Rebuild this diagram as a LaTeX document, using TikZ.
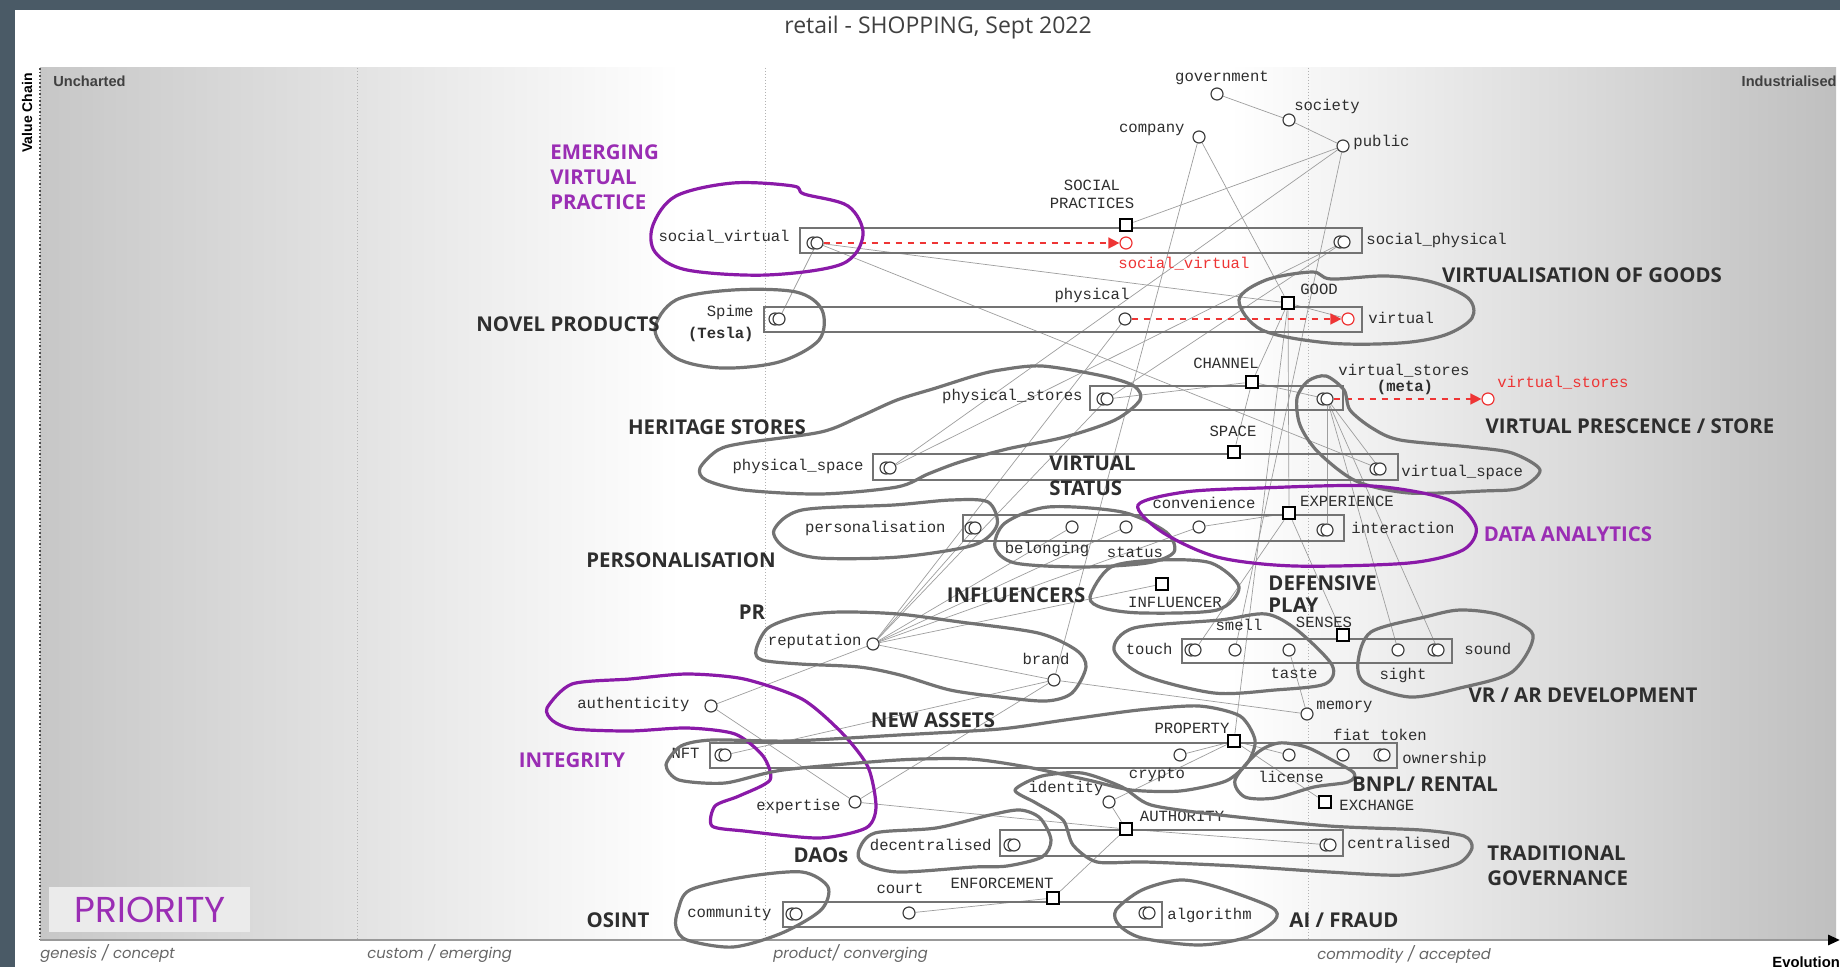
\documentclass[tikz,border=0pt]{standalone}
\usepackage{fontspec}
\setmainfont{Open Sans}
\newfontfamily\monofont{Liberation Mono}
\newfontfamily\arialfont{Liberation Sans}
\newfontfamily\geofont{Poppins}
\usetikzlibrary{arrows.meta}
\definecolor{slate}{HTML}{4A5A66}
\definecolor{inkgray}{HTML}{2E2E2E}
\definecolor{blobgray}{HTML}{737373}
\definecolor{blobpurple}{HTML}{8A1AA8}
\definecolor{textpurple}{HTML}{9A2DB4}
\definecolor{evored}{HTML}{EE3535}
\pgfdeclarelayer{back}
\pgfdeclarelayer{under}
\pgfsetlayers{back,under,main}
\tikzstyle{comp} = [circle,draw=black!75,fill=white,line width=0.6pt,
  minimum size=6pt,inner sep=0pt]
\tikzstyle{newcomp} = [comp,draw=evored]
\tikzstyle{capbox} = [rectangle,draw=black,fill=white,line width=1.1pt,
  minimum size=6.2pt,inner sep=0pt]
\tikzstyle{pipe} = [draw=black!55,line width=0.6pt]
\tikzstyle{link} = [draw=black!38,line width=0.35pt]
\tikzstyle{evo} = [draw=evored,dashed,line width=0.7pt,
  -{Triangle[length=5.5pt,width=5.5pt]}]
\tikzstyle{lbl} = [font=\monofont\fontsize{7.8}{9}\selectfont,text=inkgray,
  inner sep=0.5pt,align=center]
\tikzstyle{group} = [font=\fontsize{10.2}{12.5}\selectfont\bfseries,
  text=inkgray,inner sep=0pt,align=left]
\tikzstyle{blob} = [draw=blobgray,line width=1.6pt,line join=round]
\tikzstyle{pblob} = [blob,draw=blobpurple]
\tikzstyle{axislbl} = [font=\geofont\itshape\fontsize{7.4}{8}\selectfont,
  text=black!60,anchor=west,inner sep=0pt]
\newcommand{\twin}[2]{%
  \node[comp] (#1-b) at ([xshift=-2pt]#2) {};%
  \node[comp] (#1) at (#2) {};}

\begin{document}
\begin{tikzpicture}[x=0.5pt,y=-0.5pt]
  \useasboundingbox (0,0) rectangle (1840,967);
  % frame and map ground
  \begin{pgfonlayer}{back}
    \fill[slate] (0,0) rectangle (1840,967);
    \fill[white] (15,10) rectangle (1840,967);
    \shade[left color=black!22,right color=white] (40,68) rectangle (680,940);
    \shade[left color=white,right color=black!25] (1230,68) rectangle (1836,940);
    \foreach \x in {357,765,1308}
      \draw[black!30,densely dotted,line width=0.5pt] (\x,68) -- (\x,940);
    \draw[black!70,densely dotted,line width=0.8pt] (40,68) -- (40,940);
    \draw[black!40,line width=1.4pt,-{Triangle[length=6pt,width=5pt,black]}]
      (40,940) -- (1840,940);
  \end{pgfonlayer}
  \node[font=\fontsize{11.5}{13}\selectfont,text=black!75] (title) at (938,28)
    {retail - SHOPPING, Sept 2022};
  \node[font=\arialfont\bfseries\fontsize{7.3}{8}\selectfont,text=black!75,
    anchor=west,inner sep=0pt] (unch) at (53,81) {Uncharted};
  \node[font=\arialfont\bfseries\fontsize{7.3}{8}\selectfont,text=black!75,
    anchor=east,inner sep=0pt] (indu) at (1837,81) {Industrialised};
  \node[font=\arialfont\bfseries\fontsize{7}{8}\selectfont,rotate=90,
    inner sep=0pt] (vchain) at (27,113) {Value Chain};
  \node[axislbl] (ax1) at (40,954) {genesis / concept};
  \node[axislbl] (ax2) at (367,954) {custom / emerging};
  \node[axislbl] (ax3) at (773,954) {product/ converging};
  \node[axislbl] (ax4) at (1317,954) {commodity / accepted};
  \node[font=\arialfont\bfseries\fontsize{7.4}{8}\selectfont,anchor=west,
    inner sep=0pt] (evol) at (1772,962) {Evolution};

  % pipelines
  \foreach \xa/\ya/\xb/\yb in {800/228/1362/253, 764/307/1362/332,
      1090/386/1343/410, 873/454/1398/480, 963/515/1344/541,
      1182/639/1452/663, 710/743/1397/768, 1000/830/1343/856, 783/902/1162/927}
    \draw[pipe] (\xa,\ya) rectangle (\xb,\yb);

  % components
  \node[comp] (gov) at (1217,94) {};
  \node[comp] (soc) at (1289,120) {};
  \node[comp] (cmpy) at (1199,137) {};
  \node[comp] (pub) at (1343,146) {};
  \twin{sv}{817,243}
  \node[newcomp] (svn) at (1126,243) {};
  \twin{sph}{1344,242}
  \twin{spime}{779,319}
  \node[comp] (phys) at (1125,319) {};
  \node[newcomp] (virt) at (1348,319) {};
  \twin{pst}{1107,399}
  \twin{vst}{1327,399}
  \node[newcomp] (vstn) at (1488,399) {};
  \twin{psp}{890,468}
  \twin{vsp}{1380,469}
  \twin{pers}{975,528}
  \node[comp] (bel) at (1072,527) {};
  \node[comp] (stat) at (1126,527) {};
  \node[comp] (conv) at (1199,527) {};
  \twin{inter}{1327,530}
  \twin{touch}{1195,650}
  \node[comp] (smell) at (1235,650) {};
  \node[comp] (taste) at (1289,650) {};
  \node[comp] (sight) at (1398,650) {};
  \twin{sound}{1438,650}
  \node[comp] (rep) at (873,644) {};
  \node[comp] (brand) at (1054,680) {};
  \node[comp] (auth) at (711,706) {};
  \node[comp] (mem) at (1307,714) {};
  \twin{nft}{725,755}
  \node[comp] (crypto) at (1180,755) {};
  \node[comp] (lic) at (1289,755) {};
  \node[comp] (fiat) at (1343,755) {};
  \twin{own}{1384,755}
  \node[comp] (ident) at (1109,802) {};
  \node[comp] (exper) at (855,802) {};
  \twin{dec}{1014,845}
  \twin{cen}{1330,845}
  \twin{comm}{796,914}
  \node[comp] (court) at (909,913) {};
  \twin{algo}{1149,913}
  % capabilities
  \node[capbox] (sp) at (1126,225) {};
  \node[capbox] (good) at (1288,303) {};
  \node[capbox] (chan) at (1252,382) {};
  \node[capbox] (space) at (1234,452) {};
  \node[capbox] (exp) at (1289,513) {};
  \node[capbox] (infl) at (1162,584) {};
  \node[capbox] (sens) at (1343,635) {};
  \node[capbox] (prop) at (1234,741) {};
  \node[capbox] (exch) at (1325,802) {};
  \node[capbox] (authy) at (1126,829) {};
  \node[capbox] (enf) at (1053,898) {};

  % labels
  \foreach \n/\x/\y/\t in {govl/1222/78/government, socl/1327/106/society,
      spl/1092/194/SOCIAL\\PRACTICES, physl/1092/295/physical,
      goodl/1319/289/GOOD, chanl/1226/363/CHANNEL,
      vstl/1404/371/virtual\_stores, metal/1405/387/{\bfseries (meta)},
      spacel/1233/431/SPACE, bell/1047/549/belonging, statl/1135/552/status,
      convl/1204/503/convenience, expl/1347/501/EXPERIENCE,
      infll/1175/602/INFLUENCER, sensl/1324/622/SENSES, smelll/1239/625/smell,
      tastel/1294/673/taste, sightl/1403/675/sight, brandl/1046/659/brand,
      propl/1192/728/PROPERTY, fiatl/1380/735/fiat token,
      cryptol/1157/775/crypto, licl/1291/777/license,
      identl/1066/788/identity, authyl/1182/816/AUTHORITY,
      enfl/1002/883/ENFORCEMENT, courtl/900/888/court}
    \node[lbl] (\n) at (\x,\y) {\t};
  \foreach \n/\x/\y/\t in {cmpyl/1186/130/company, svl/791/237/social\_virtual,
      spimel/755/312/Spime, teslal/755/334/{\bfseries (Tesla)},
      pstl/1084/396/physical\_stores, pspl/865/466/physical\_space,
      persl/947/528/personalisation, touchl/1174/649/touch,
      repl/863/641/reputation, authl/691/704/authenticity, nftl/701/753/NFT,
      experl/842/806/expertise, decl/993/845/decentralised,
      comml/773/913/community}
    \node[lbl,anchor=east] (\n) at (\x,\y) {\t};
  \foreach \n/\x/\y/\t in {publ/1352/142/public, sphl/1365/240/social\_physical,
      virtl/1367/318/virtual, vspl/1400/472/virtual\_space,
      interl/1350/528/interaction, soundl/1463/649/sound,
      meml/1315/707/memory, ownl/1401/759/ownership, exchl/1338/805/EXCHANGE,
      cenl/1346/843/centralised, algol/1166/915/algorithm}
    \node[lbl,anchor=west] (\n) at (\x,\y) {\t};
  \node[lbl,anchor=west,text=evored] (svnl) at (1117,264) {social\_virtual};
  \node[lbl,anchor=west,text=evored] (vstnl) at (1496,383) {virtual\_stores};

  % links
  \begin{pgfonlayer}{under}
    \foreach \a/\b in {gov/soc, soc/pub, pub/sp, cmpy/good, cmpy/brand,
        pub/smell, sv/spime, sv/good, sv/vsp, sph/pst, sph/psp, psp/pub,
        good/chan, good/exp, good/prop, good/virt, chan/pst, chan/vst,
        chan/space, exp/conv, exp/sens, exp/touch, vst/vsp, vst/inter,
        vst/sight, vst/sound, rep/pers, rep/bel, rep/stat, rep/conv, rep/infl,
        rep/brand, rep/phys, rep/pst, auth/rep, auth/exper, exper/authy,
        exper/brand, brand/mem, brand/nft, taste/mem, prop/crypto, prop/lic,
        prop/exch, prop/ident, ident/authy, authy/enf, authy/cen, enf/court}
      \draw[link] (\a) -- (\b);
  \end{pgfonlayer}
  \draw[evo] (sv) -- (svn);
  \draw[evo] (phys) -- (virt);
  \draw[evo] (vst) -- (vstn);

  % hand drawn groupings
  \draw[pblob] plot[smooth cycle,tension=0.55] coordinates {(653,225) (676,196)
    (733,183) (793,186) (804,194) (848,206) (863,235) (842,264) (767,275)
    (687,270) (655,252)};
  \draw[blob] plot[smooth cycle,tension=0.55] coordinates {(655,330) (676,300)
    (733,290) (796,292) (822,310) (819,340) (779,362) (721,368) (676,358)};
  \draw[blob] plot[smooth cycle,tension=0.55] coordinates {(1239,300)
    (1266,280) (1312,272) (1331,279) (1386,276) (1432,282) (1468,298)
    (1472,318) (1445,335) (1400,343) (1329,343) (1262,330)};
  \draw[blob] plot[smooth cycle,tension=0.5] coordinates {(700,468) (718,450)
    (744,443) (821,432) (859,417) (897,400) (936,388) (974,376) (1000,370)
    (1042,366) (1103,376) (1134,386) (1140,400) (1115,420) (1065,437)
    (1007,449) (960,462) (928,474) (897,487) (821,494) (744,490) (706,480)};
  \draw[blob] plot[smooth cycle,tension=0.5] coordinates {(1297,398)
    (1308,381) (1326,376) (1344,390) (1350,410) (1372,428) (1400,440)
    (1470,447) (1512,453) (1540,470) (1520,488) (1483,491) (1409,493)
    (1356,481) (1318,452) (1300,425)};
  \draw[blob] plot[smooth cycle,tension=0.5] coordinates {(774,530) (802,510)
    (894,505) (951,500) (988,502) (997,525) (974,545) (899,557) (819,558)
    (785,548)};
  \draw[blob] plot[smooth cycle,tension=0.5] coordinates {(995,547) (1005,523)
    (1048,507) (1122,512) (1166,532) (1174,552) (1147,563) (1082,567)
    (1015,563)};
  \draw[pblob] plot[smooth cycle,tension=0.5] coordinates {(1138,505)
    (1185,492) (1260,488) (1372,486) (1449,500) (1476,527) (1463,550)
    (1409,563) (1294,566) (1217,557) (1162,532)};
  \draw[blob] plot[smooth cycle,tension=0.5] coordinates {(1090,597)
    (1111,567) (1160,560) (1211,563) (1239,587) (1217,610) (1142,613)
    (1103,608)};
  \draw[blob] plot[smooth cycle,tension=0.5] coordinates {(1114,650)
    (1134,628) (1220,620) (1266,614) (1297,630) (1332,665) (1325,684)
    (1275,690) (1214,693) (1143,675)};
  \draw[blob] plot[smooth cycle,tension=0.5] coordinates {(1358,662)
    (1371,632) (1425,617) (1460,610) (1500,615) (1533,635) (1512,672)
    (1460,688) (1410,697) (1365,683)};
  \draw[blob] plot[smooth cycle,tension=0.5] coordinates {(756,650) (768,628)
    (800,616) (840,612) (898,614) (960,622) (1038,633) (1076,650) (1086,667)
    (1072,693) (1046,701) (1000,697) (950,690) (900,675) (859,667) (800,664)
    (762,660)};
  \draw[pblob] plot[smooth cycle,tension=0.45] coordinates {(547,708)
    (572,684) (630,679) (687,674) (744,679) (802,699) (842,733) (868,767)
    (876,807) (866,828) (819,838) (744,831) (712,826) (715,806) (739,796)
    (770,780) (763,756) (735,734) (687,728) (630,731) (574,729) (553,721)};
  \draw[blob] plot[smooth cycle,tension=0.45] coordinates {(666,765)
    (681,746) (712,740) (790,741) (899,735) (1000,729) (1065,720) (1139,710)
    (1199,706) (1240,716) (1255,740) (1248,762) (1226,781) (1180,791)
    (1131,790) (1088,780) (1027,767) (970,759) (898,760) (783,770) (725,783)
    (679,780)};
  \draw[blob] plot[smooth cycle,tension=0.5] coordinates {(1235,780)
    (1257,753) (1279,743) (1306,747) (1332,760) (1354,773) (1348,782)
    (1314,787) (1275,798) (1245,797)};
  \draw[blob] plot[smooth cycle,tension=0.45] coordinates {(1015,790)
    (1042,776) (1082,773) (1122,787) (1151,805) (1220,815) (1329,826)
    (1421,830) (1464,836) (1472,848) (1457,864) (1403,875) (1329,872)
    (1237,866) (1145,862) (1097,862) (1073,845) (1063,820) (1036,803)};
  \draw[blob] plot[smooth cycle,tension=0.5] coordinates {(859,850) (875,833)
    (936,828) (990,815) (1020,810) (1040,818) (1051,840) (1042,857)
    (1007,866) (974,867) (898,872) (863,863)};
  \draw[blob] plot[smooth cycle,tension=0.5] coordinates {(678,910) (690,890)
    (744,877) (802,872) (828,887) (821,910) (782,933) (733,947) (687,940)
    (676,927)};
  \draw[blob] plot[smooth cycle,tension=0.5] coordinates {(1116,910)
    (1142,890) (1180,880) (1217,887) (1271,907) (1275,920) (1248,937)
    (1199,945) (1142,938) (1119,925)};

  % group names
  \node[group,anchor=west,text=textpurple] (gemerg) at (550,177)
    {EMERGING\\VIRTUAL\\PRACTICE};
  \node[group] (gnovel) at (568,324) {NOVEL PRODUCTS};
  \node[group] (gvgoods) at (1582,275) {VIRTUALISATION OF GOODS};
  \node[group] (gherit) at (717,427) {HERITAGE STORES};
  \node[group] (gvstore) at (1630,426) {VIRTUAL PRESCENCE / STORE};
  \node[group,anchor=west] (gvstat) at (1049,476) {VIRTUAL\\STATUS};
  \node[group,text=textpurple] (gdata) at (1568,534) {DATA ANALYTICS};
  \node[group] (gpers) at (681,560) {PERSONALISATION};
  \node[group] (ginfl) at (1016,595) {INFLUENCERS};
  \node[group,anchor=west,font=\fontsize{10.2}{11}\selectfont\bfseries]
    (gdef) at (1268,594) {DEFENSIVE\\PLAY};
  \node[group] (gpr) at (752,612) {PR};
  \node[group] (gvr) at (1583,695) {VR / AR DEVELOPMENT};
  \node[group] (gnew) at (933,720) {NEW ASSETS};
  \node[group,text=textpurple] (ginteg) at (572,760) {INTEGRITY};
  \node[group] (gbnpl) at (1425,784) {BNPL/ RENTAL};
  \node[group] (gdao) at (821,855) {DAOs};
  \node[group,anchor=west] (gtrad) at (1487,866) {TRADITIONAL\\GOVERNANCE};
  \node[group] (gosint) at (618,920) {OSINT};
  \node[group] (gai) at (1344,920) {AI / FRAUD};
  \fill[black!8] (49,887) rectangle (250,932);
  \node[font=\geofont\fontsize{18}{18}\selectfont,text=textpurple] (prio)
    at (150,910) {PRIORITY};
\end{tikzpicture}
\end{document}
